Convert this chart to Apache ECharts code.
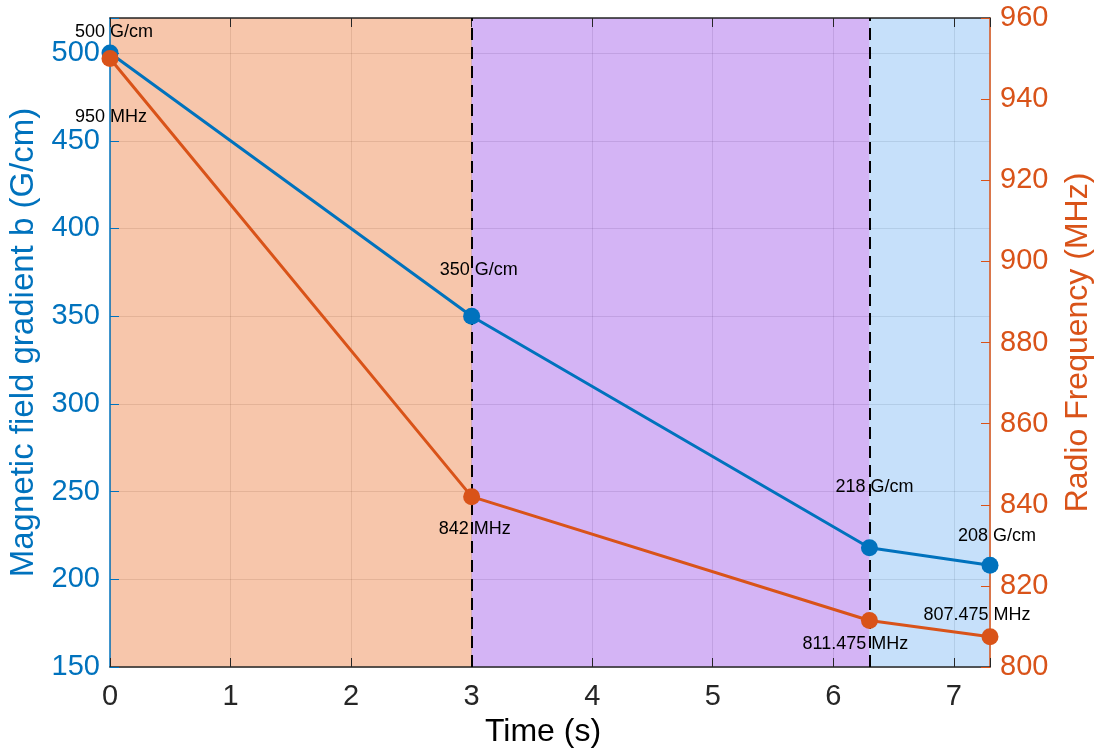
<!DOCTYPE html>
<html>
<head>
<meta charset="utf-8">
<script src="https://cdn.jsdelivr.net/npm/echarts@6/dist/echarts.min.js"></script>
<style>
  html, body { margin: 0; padding: 0; background: #fff; }
  #chart { width: 1099px; height: 753px; }
</style>
</head>
<body>
<div id="chart"></div>
<script>
// Time stamps (s) of the sweep breakpoints
const times = [0, 3, 6.3, 7.3];
// Magnetic field gradient (G/cm) at each breakpoint
const gradient = [500, 350, 218, 208];
// Radio frequency (MHz) at each breakpoint
const frequency = [950, 842, 811.475, 807.475];
// Shaded phases along the time axis
const phases = [[0, 3], [3, 6.3], [6.3, 7.3]];
// Phase boundaries drawn as dashed lines
const boundaries = [3, 6.3];

const BLUE = '#0072BD';
const ORANGE = '#D95319';
const DARK = '#262626';
const FONT = 'Liberation Sans, Arial, Helvetica, sans-serif';

// label placement around each marker (pixels)
const gradOffsets = [[4, -21], [7, -46], [5, -61], [7, -29]];
const freqOffsets = [[1, 58], [3, 32], [-14, 24], [-13, -22]];
const phaseColors = ['rgba(235,112,45,0.4)', 'rgba(148,68,230,0.4)', 'rgba(113,178,243,0.4)'];

function fmt(v) { return String(v); }

const gradData = times.map((t, i) => ({
  value: [t, gradient[i]],
  label: { offset: gradOffsets[i] }
}));
const freqData = times.map((t, i) => ({
  value: [t, frequency[i]],
  label: { offset: freqOffsets[i] }
}));

const pointLabel = (unit) => ({
  show: true,
  position: 'inside',
  color: '#000',
  fontSize: 18,
  fontFamily: FONT,
  formatter: p => fmt(p.value[1]) + ' ' + unit
});

const chart = echarts.init(document.getElementById('chart'), null, { renderer: 'canvas' });

chart.setOption({
  animation: false,
  backgroundColor: '#fff',
  grid: { left: 110, right: 109, top: 18, bottom: 86, containLabel: false, outerBoundsMode: 'none' },
  xAxis: [
    {
      type: 'value', min: 0, max: 7.3, interval: 1, position: 'bottom',
      name: 'Time (s)', nameLocation: 'middle', nameGap: 47,
      nameTextStyle: { fontSize: 32, color: '#000', fontFamily: FONT, padding: [0, 14, 0, 0] },
      axisLine: { onZero: false, lineStyle: { color: DARK, width: 1.5 } },
      axisTick: { inside: true, length: 9, lineStyle: { color: DARK, width: 1 } },
      axisLabel: {
        fontSize: 29, color: DARK, fontFamily: FONT, margin: 15,
        formatter: v => (Math.abs(v - Math.round(v)) < 1e-9 ? String(Math.round(v)) : '')
      },
      splitLine: { show: true, lineStyle: { color: 'rgba(38,38,38,0.15)', width: 1 } },
      z: 1
    },
    {
      type: 'value', min: 0, max: 7.3, interval: 1, position: 'top',
      axisLine: { show: true, onZero: false, lineStyle: { color: DARK, width: 1.5 } },
      axisTick: { inside: true, length: 9, lineStyle: { color: DARK, width: 1 } },
      axisLabel: { show: false },
      splitLine: { show: false },
      z: 1
    }
  ],
  yAxis: [
    {
      type: 'value', min: 150, max: 520, interval: 50, position: 'left',
      name: 'Magnetic field gradient b (G/cm)', nameLocation: 'middle', nameGap: 60, nameRotate: 90,
      nameTextStyle: { fontSize: 33, color: BLUE, fontFamily: FONT },
      axisLine: { show: true, onZero: false, lineStyle: { color: BLUE, width: 1.5 } },
      axisTick: { show: true, inside: true, length: 9, lineStyle: { color: BLUE, width: 1 } },
      axisLabel: {
        fontSize: 29, color: BLUE, fontFamily: FONT, margin: 10,
        formatter: v => (v % 50 === 0 ? String(v) : '')
      },
      splitLine: { show: true, lineStyle: { color: 'rgba(38,38,38,0.15)', width: 1 } },
      z: 1
    },
    {
      type: 'value', min: 800, max: 960, interval: 20, position: 'right',
      name: 'Radio Frequency (MHz)', nameLocation: 'middle', nameGap: 72, nameRotate: 90,
      nameTextStyle: { fontSize: 32, color: ORANGE, fontFamily: FONT },
      axisLine: { show: true, onZero: false, lineStyle: { color: ORANGE, width: 1.5 } },
      axisTick: { show: true, inside: true, length: 9, lineStyle: { color: ORANGE, width: 1 } },
      axisLabel: { fontSize: 29, color: ORANGE, fontFamily: FONT, margin: 10 },
      splitLine: { show: false },
      z: 1
    }
  ],
  series: [
    {
      // background phases
      type: 'line', xAxisIndex: 0, yAxisIndex: 0, data: [], z: 2,
      markArea: {
        silent: true,
        data: phases.map((p, i) => [
          { xAxis: p[0], itemStyle: { color: phaseColors[i] } },
          { xAxis: p[1] }
        ])
      }
    },
    {
      // dashed phase boundaries
      type: 'line', xAxisIndex: 0, yAxisIndex: 0, data: [], z: 3,
      markLine: {
        silent: true, symbol: 'none',
        label: { show: false },
        lineStyle: { color: '#000', width: 2, type: [12, 7] },
        data: boundaries.map(b => ({ xAxis: b }))
      }
    },
    {
      name: 'Gradient', type: 'line', xAxisIndex: 0, yAxisIndex: 0,
      data: gradData, z: 5,
      symbol: 'circle', symbolSize: 17,
      lineStyle: { color: BLUE, width: 3 },
      itemStyle: { color: BLUE },
      label: pointLabel('G/cm')
    },
    {
      name: 'Frequency', type: 'line', xAxisIndex: 0, yAxisIndex: 1,
      data: freqData, z: 5,
      symbol: 'circle', symbolSize: 17,
      lineStyle: { color: ORANGE, width: 3 },
      itemStyle: { color: ORANGE },
      label: pointLabel('MHz')
    }
  ]
});
</script>
</body>
</html>
